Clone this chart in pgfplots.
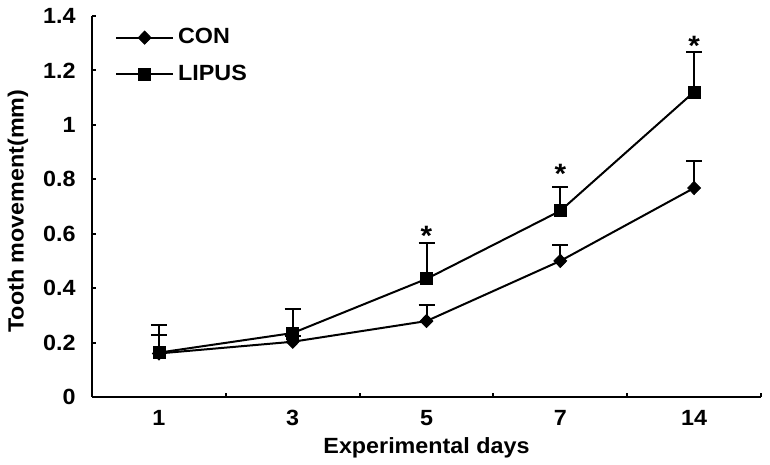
\documentclass[border=0pt]{standalone}
\usepackage{fontspec}
\setmainfont{Liberation Sans}[FakeStretch=1.06]
\usepackage{pgfplots}
\pgfplotsset{compat=1.18}
\newcommand\ff{\fontsize{11}{13}\selectfont\bfseries}
\begin{document}
\ff
\begin{tikzpicture}
\begin{axis}[
  name=ax,
  scale only axis,
  width=334.5pt, height=190.5pt,
  xmin=-0.5, xmax=4.5, ymin=0, ymax=1.4,
  axis x line*=bottom, axis y line*=left,
  axis line style={line width=1pt, -},
  xtick={0,1,2,3,4}, xticklabels={1,3,5,7,14},
  minor xtick={0.5,1.5,2.5,3.5,4.5},
  ytick={0,0.2,0.4,0.6,0.8,1,1.2,1.4},
  yticklabels={0,0.2,0.4,0.6,0.8,1,1.2,1.4},
  tick align=inside,
  major tick length=2.2pt, minor tick length=2.2pt,
  tick style={line width=1pt, black},
  major x tick style={draw=none},
  yticklabel style={anchor=east, inner sep=0pt, xshift=-8pt, font=\ff},
  xticklabel style={anchor=north, inner sep=0pt, yshift=-6.5pt, font=\ff},
  xlabel={Experimental days},
  xlabel style={at={(axis description cs:0.5,-0.134)}, anchor=center, font=\ff},
  ylabel={Tooth movement(mm)},
  ylabel style={at={(axis description cs:-0.1106,0.488)}, anchor=center, font=\ff},
  clip=false,
  legend style={draw=none, fill=none, at={(rel axis cs:0.034,0.895)}, anchor=west,
    inner sep=0pt, row sep=9pt, column sep=2pt, font=\ff, nodes={inner sep=0pt}},
  legend cell align=left,
  legend image code/.code={\draw[mark repeat=2,mark phase=2] plot coordinates {(0pt,0pt)(14.25pt,0pt)(28.5pt,0pt)};},
]
\addplot[black, line width=1pt, mark=diamond*, mark size=3.3pt,
  mark options={solid, fill=black, line width=0.4pt, xscale=1.3},
  error bars/.cd, y dir=plus, y explicit,
  error mark options={black, line width=1pt, mark size=4pt, rotate=90},
  error bar style={line width=1pt, black}]
  table[x=x, y=y, y error=e] {
x y e
0 0.160 0.068
1 0.203 0.020
2 0.279 0.059
3 0.500 0.059
4 0.768 0.099
};
\addlegendentry{CON}
\addplot[black, line width=1pt, mark=square*, mark size=3pt,
  mark options={solid, fill=black, line width=0.4pt},
  error bars/.cd, y dir=plus, y explicit,
  error mark options={black, line width=1pt, mark size=4pt, rotate=90},
  error bar style={line width=1pt, black}]
  table[x=x, y=y, y error=e] {
x y e
0 0.163 0.102
1 0.235 0.088
2 0.434 0.132
3 0.684 0.088
4 1.121 0.147
};
\addlegendentry{LIPUS}
\addplot[draw=none, mark=none, forget plot, nodes near coords={*},
  every node near coord/.append style={anchor=center, inner sep=0pt, yshift=-3pt,
    font=\fontsize{14}{14}\selectfont\bfseries}]
  coordinates {(2,0.614) (3,0.842) (4,1.312)};
\end{axis}
\pgfresetboundingbox
\path[use as bounding box] ([xshift=-46pt,yshift=-34pt]ax.south west) rectangle ([xshift=4.5pt,yshift=8pt]ax.north east);
\end{tikzpicture}
\end{document}
